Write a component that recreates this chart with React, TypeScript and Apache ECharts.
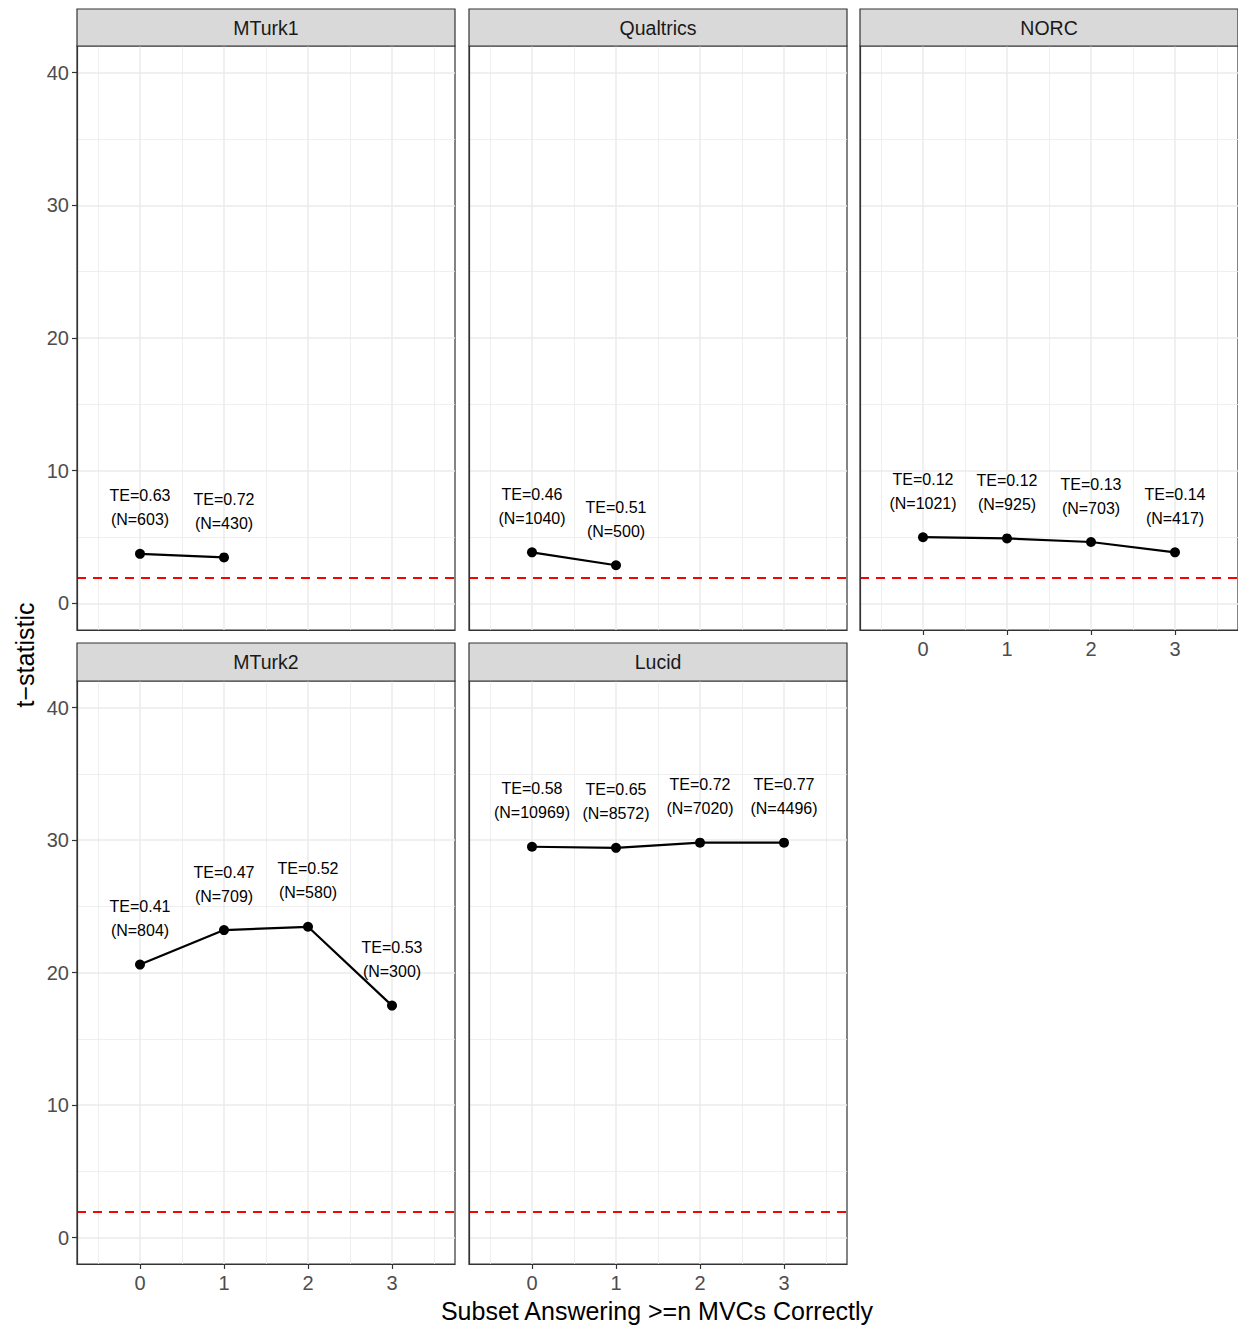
import React, { useEffect, useRef } from "react";
import * as echarts from "echarts";

const panelNames = ["MTurk1", "Qualtrics", "NORC", "MTurk2", "Lucid"];
const subsets = [0, 1, 2, 3];
const mturk1T = [3.74, 3.47];
const qualtricsT = [3.85, 2.88];
const norcT = [4.99, 4.9, 4.63, 3.85];
const mturk2T = [20.6, 23.2, 23.45, 17.5];
const lucidT = [29.49, 29.41, 29.8, 29.8];
const mturk1TE = ["0.63", "0.72"];
const qualtricsTE = ["0.46", "0.51"];
const norcTE = ["0.12", "0.12", "0.13", "0.14"];
const mturk2TE = ["0.41", "0.47", "0.52", "0.53"];
const lucidTE = ["0.58", "0.65", "0.72", "0.77"];
const mturk1N = [603, 430];
const qualtricsN = [1040, 500];
const norcN = [1021, 925, 703, 417];
const mturk2N = [804, 709, 580, 300];
const lucidN = [10969, 8572, 7020, 4496];
const xTicks = [0, 1, 2, 3];
const xMinor = [-0.5, 0.5, 1.5, 2.5, 3.5];
const yTicks = [0, 10, 20, 30, 40];
const yMinor = [5, 15, 25, 35];
const threshold = 1.96;

const tValues = [mturk1T, qualtricsT, norcT, mturk2T, lucidT];
const teValues = [mturk1TE, qualtricsTE, norcTE, mturk2TE, lucidTE];
const nValues = [mturk1N, qualtricsN, norcN, mturk2N, lucidN];

// layout
const colLeft = [77, 469, 860];
const panelW = 378;
const rowTop = [46, 681];
const panelH = [584, 583];
const stripTop = [9, 643];
const panelPos = [
  [0, 0], [0, 1], [0, 2], [1, 0], [1, 1],
];
const showXLabels = [false, false, true, true, true];
const showYLabels = [true, false, false, true, false];

export default function App() {
  const ref = useRef<HTMLDivElement>(null);
  useEffect(() => {
    if (!ref.current) return;
    const chart = echarts.init(ref.current, undefined, { renderer: "svg" });
    const grids: any[] = [];
    const xAxes: any[] = [];
    const yAxes: any[] = [];
    const series: any[] = [];
    const graphics: any[] = [];
    const font = "Liberation Sans, Arial, Helvetica, sans-serif";

    panelNames.forEach((name, i) => {
      const [r, c] = panelPos[i];
      grids.push({
        left: colLeft[c],
        top: rowTop[r],
        width: panelW,
        height: panelH[r],
        show: true,
        borderColor: "#333333",
        borderWidth: 1.2,
        backgroundColor: "#ffffff",
        z: 0,
      });
      xAxes.push({
        type: "value",
        gridIndex: i,
        min: -0.75,
        max: 3.75,
        axisLine: { show: true, onZero: false, lineStyle: { color: "#333333", width: 1.2 } },
        splitLine: { show: false },
        axisTick: {
          show: showXLabels[i],
          customValues: xTicks,
          length: 5,
          lineStyle: { color: "#333333", width: 1.2 },
        },
        axisLabel: {
          show: showXLabels[i],
          customValues: xTicks,
          color: "#4d4d4d",
          fontSize: 20,
          fontFamily: font,
          margin: 9,
        },
        z: 20,
      });
      yAxes.push({
        type: "value",
        gridIndex: i,
        min: -2,
        max: 42,
        axisLine: { show: true, onZero: false, lineStyle: { color: "#333333", width: 1.2 } },
        splitLine: { show: false },
        axisTick: {
          show: showYLabels[i],
          customValues: yTicks,
          length: 5,
          lineStyle: { color: "#333333", width: 1.2 },
        },
        axisLabel: {
          show: showYLabels[i],
          customValues: yTicks,
          color: "#4d4d4d",
          fontSize: 20,
          fontFamily: font,
          margin: 8,
        },
        z: 20,
      });
      const pts = tValues[i].map((v, k) => [subsets[k], v]);
      // grid lines
      series.push({
        type: "line",
        xAxisIndex: i,
        yAxisIndex: i,
        data: pts,
        symbol: "none",
        lineStyle: { opacity: 0 },
        silent: true,
        z: 1,
        markLine: {
          silent: true,
          z: 1,
          symbol: ["none", "none"],
          label: { show: false },
          animation: false,
          data: [
            ...xMinor.map((v) => ({ xAxis: v, lineStyle: { color: "#ebebeb", width: 0.8, type: "solid" } })),
            ...yMinor.map((v) => ({ yAxis: v, lineStyle: { color: "#ebebeb", width: 0.8, type: "solid" } })),
            ...xTicks.map((v) => ({ xAxis: v, lineStyle: { color: "#ebebeb", width: 1.5, type: "solid" } })),
            ...yTicks.map((v) => ({ yAxis: v, lineStyle: { color: "#ebebeb", width: 1.5, type: "solid" } })),
          ],
        },
      });
      // threshold line
      series.push({
        type: "line",
        xAxisIndex: i,
        yAxisIndex: i,
        data: pts,
        symbol: "none",
        lineStyle: { opacity: 0 },
        silent: true,
        z: 2,
        markLine: {
          silent: true,
          z: 2,
          symbol: ["none", "none"],
          label: { show: false },
          animation: false,
          data: [{ yAxis: threshold, lineStyle: { color: "#ff0000", width: 2, type: [9, 7] } }],
        },
      });
      // data line
      series.push({
        type: "line",
        name,
        xAxisIndex: i,
        yAxisIndex: i,
        data: pts,
        symbol: "circle",
        symbolSize: 10,
        showAllSymbol: true,
        itemStyle: { color: "#000000", borderWidth: 0 },
        lineStyle: { color: "#000000", width: 2.2 },
        z: 10,
        label: {
          show: true,
          position: "inside",
          offset: [0, -46],
          color: "#000000",
          fontSize: 16,
          lineHeight: 24,
          fontFamily: font,
          align: "center",
          verticalAlign: "middle",
          formatter: (p: any) => `TE=${teValues[i][p.dataIndex]}\n(N=${nValues[i][p.dataIndex]})`,
        },
      });
      // strip
      graphics.push({
        type: "rect",
        shape: { x: colLeft[c], y: stripTop[r], width: panelW, height: rowTop[r] - stripTop[r] },
        style: { fill: "#d9d9d9", stroke: "#333333", lineWidth: 1.2 },
        z: 30,
      });
      graphics.push({
        type: "text",
        x: colLeft[c] + panelW / 2,
        y: (stripTop[r] + rowTop[r]) / 2,
        style: {
          text: name,
          fill: "#1a1a1a",
          fontSize: 19.5,
          fontFamily: font,
          align: "center",
          verticalAlign: "middle",
        },
        z: 31,
      });
    });

    graphics.push({
      type: "text",
      x: 25,
      y: 655,
      rotation: Math.PI / 2,
      style: {
        text: "t\u2212statistic",
        fill: "#000000",
        fontSize: 25,
        fontFamily: font,
        align: "center",
        verticalAlign: "middle",
      },
    });
    graphics.push({
      type: "text",
      x: 657,
      y: 1311,
      style: {
        text: "Subset Answering >=n MVCs Correctly",
        fill: "#000000",
        fontSize: 25,
        fontFamily: font,
        align: "center",
        verticalAlign: "middle",
      },
    });

    chart.setOption({
      animation: false,
      backgroundColor: "#ffffff",
      grid: grids,
      xAxis: xAxes,
      yAxis: yAxes,
      series,
      graphic: graphics,
    });
    return () => chart.dispose();
  }, []);
  return (
    <div
      ref={ref}
      style={{ position: "absolute", left: 0, top: 0, width: 1238, height: 1327 }}
    />
  );
}
